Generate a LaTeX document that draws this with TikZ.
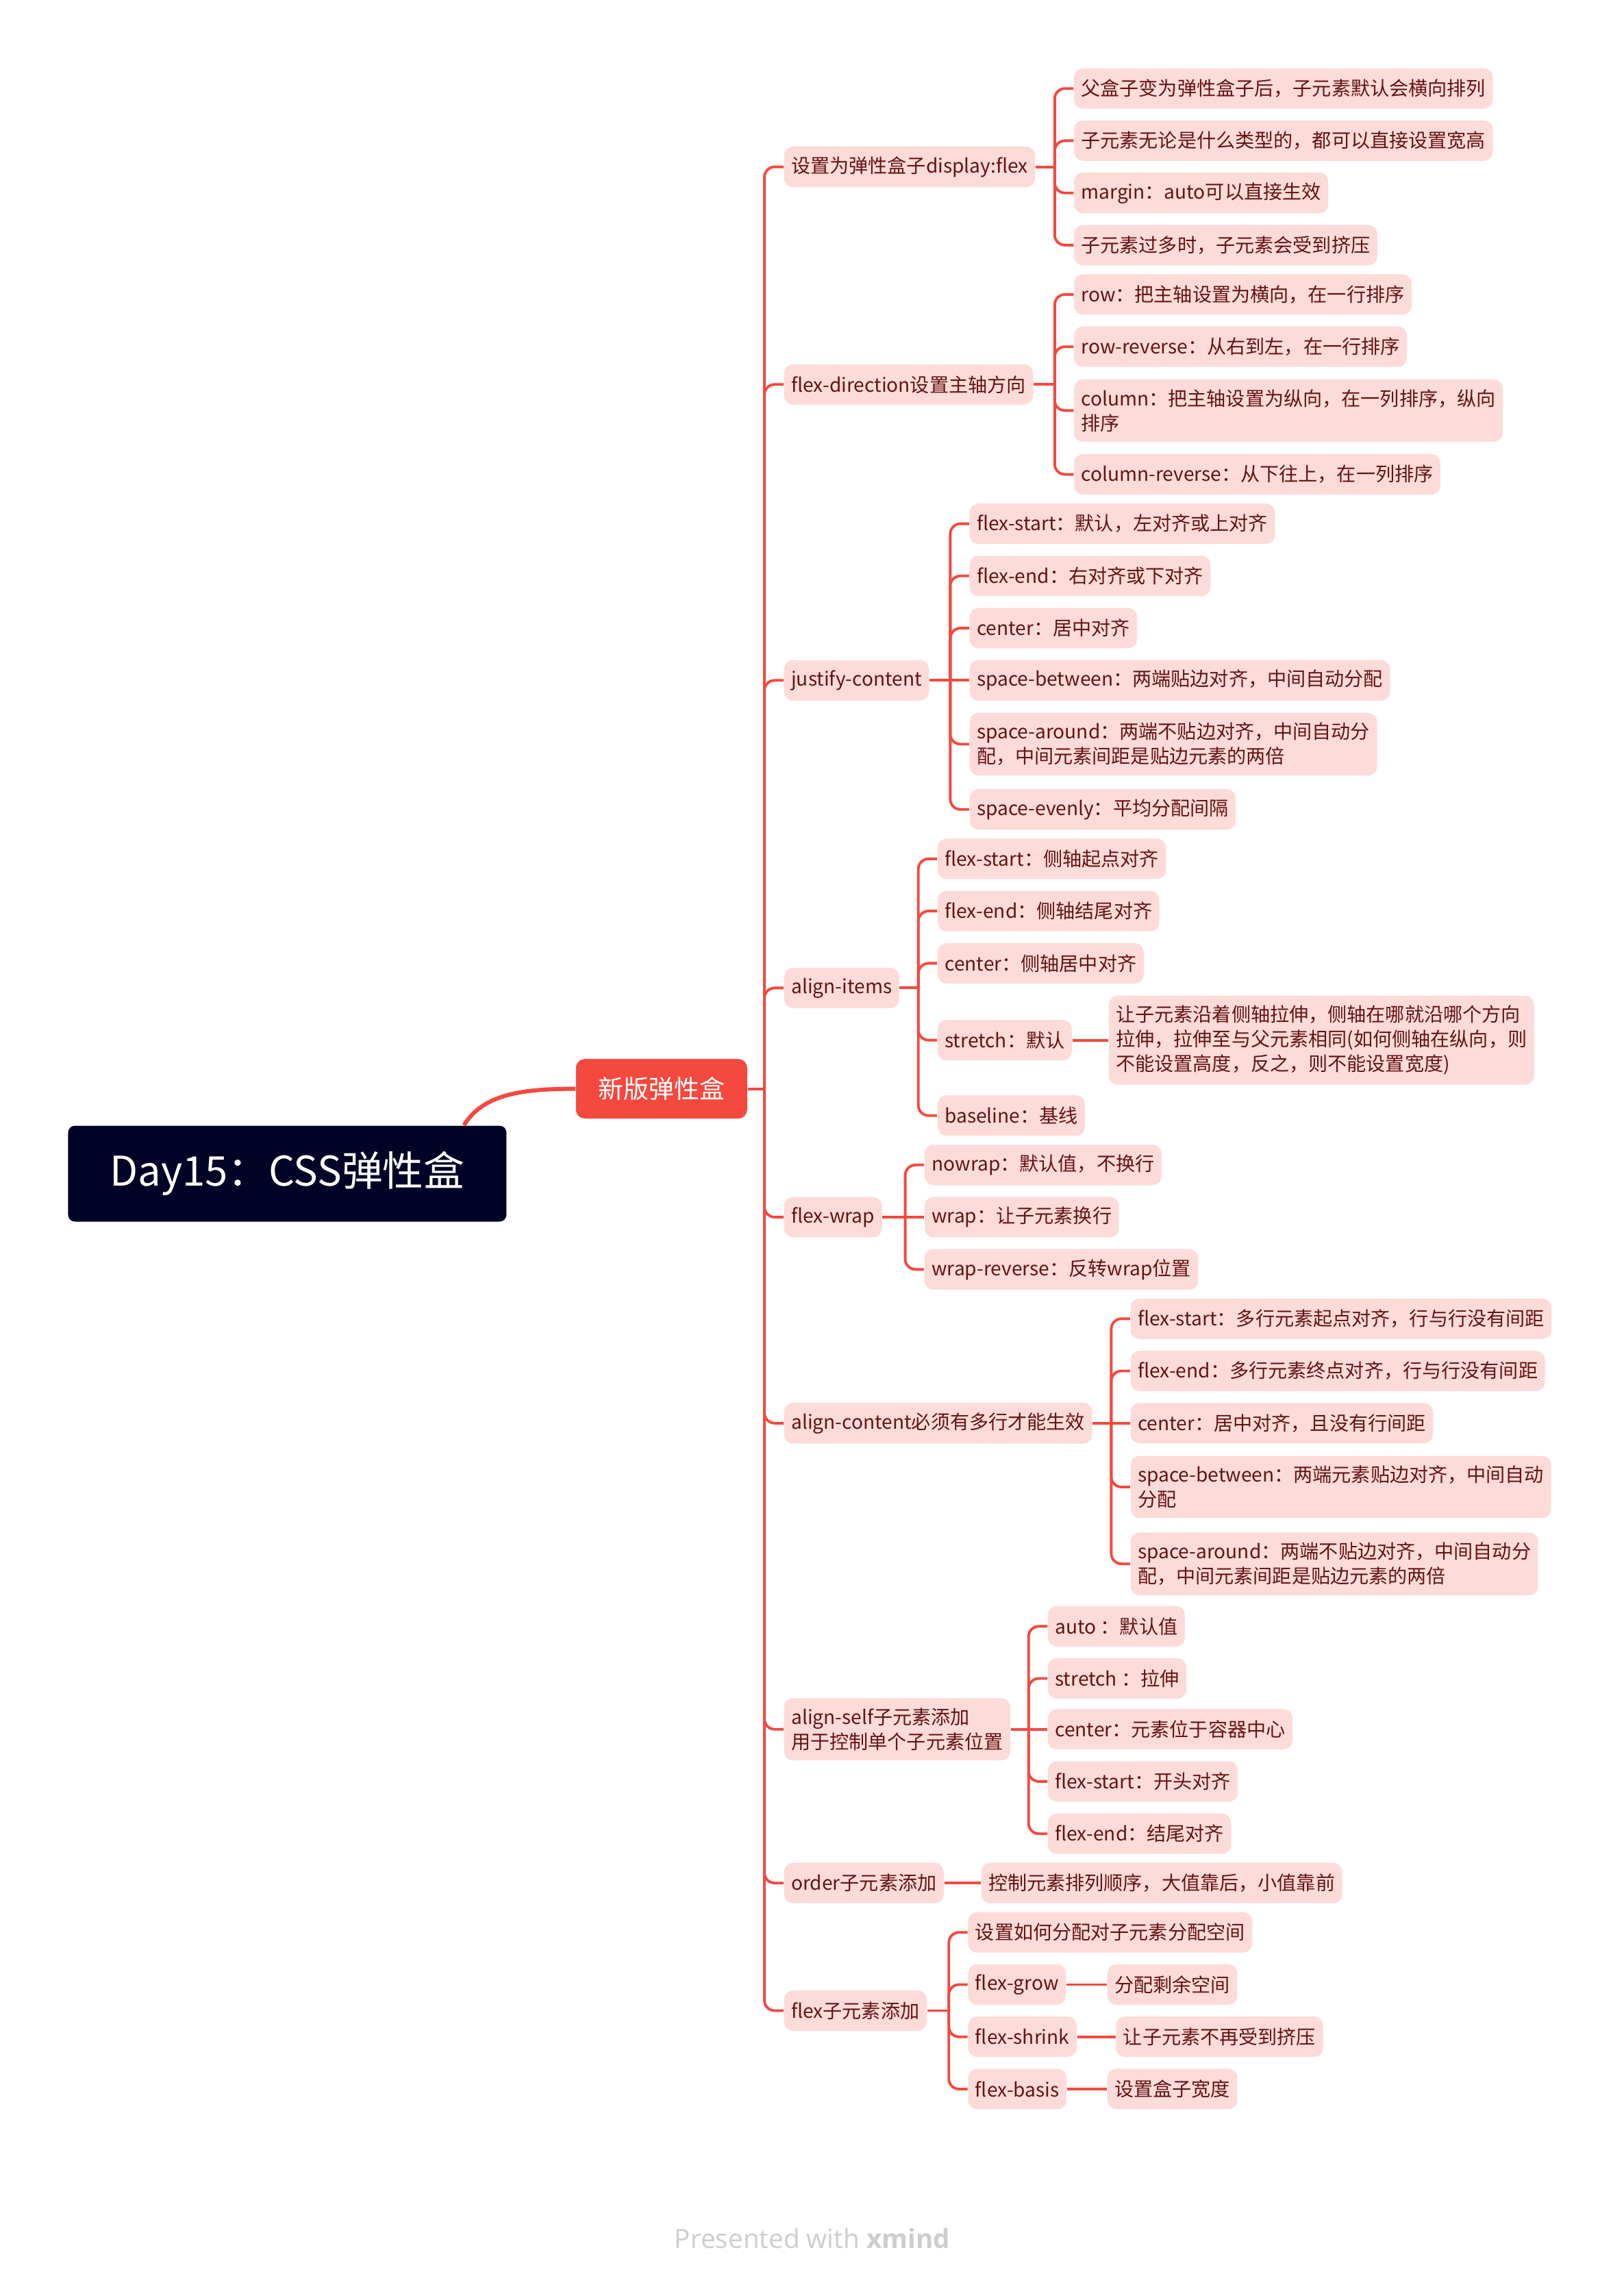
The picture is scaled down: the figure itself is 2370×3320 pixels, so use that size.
\documentclass[tikz,border=0pt]{standalone}
\usepackage{fontspec}
\setmainfont{Noto Sans CJK SC}
\newfontfamily\footfont{Open Sans}
\definecolor{xred}{RGB}{245,72,62}
\definecolor{xpink}{RGB}{253,219,217}
\definecolor{xtext}{RGB}{98,20,18}
\definecolor{xnavy}{RGB}{0,2,38}
\definecolor{xgray}{RGB}{205,205,205}
\tikzset{
  leafbox/.style={anchor=west, fill=xpink, text=xtext, rounded corners=1.3mm,
    inner xsep=1.05mm, inner ysep=1.45mm, minimum height=5.9mm, align=left,
    font=\fontsize{8pt}{10.2pt}\selectfont},
  rootbox/.style={fill=xnavy, text=white, rounded corners=1mm,
    minimum width=64mm, minimum height=14mm, font=\fontsize{17pt}{20pt}\selectfont},
  topicbox/.style={fill=xred, text=white, rounded corners=1.3mm,
    minimum width=25mm, minimum height=8.7mm, font=\fontsize{10.5pt}{12pt}\selectfont},
  branch/.style={draw=xred, line width=1.1pt, rounded corners=1.5mm},
  trunk/.style={draw=xred, line width=1.7pt},
}
\begin{document}
\begin{tikzpicture}[x=0.1mm, y=-0.1mm]
    \useasboundingbox (0,0) rectangle (2370,3320);

    % 中心主题
    \node[rootbox] (day) at (419.4,1713.5) {Day15：CSS弹性盒};
    \node[topicbox] (xinban) at (965.8,1589.6) {新版弹性盒};
    \draw[trunk] ([xshift=25.8mm]day.north) .. controls (705,1598) and (760,1589.6) .. (xinban.west);
    \draw[branch] (xinban.east) -- (1116,1589.6);

    % 一级分支
    \node[leafbox] (p1) at (1144,243.6) {设置为弹性盒子display:flex};
    \node[leafbox] (p2) at (1144,561.3) {flex-direction设置主轴方向};
    \node[leafbox] (p3) at (1144,993.3) {justify-content};
    \node[leafbox] (p4) at (1144,1442.4) {align-items};
    \node[leafbox] (p5) at (1144,1777) {flex-wrap};
    \node[leafbox] (p6) at (1144,2077.8) {align-content必须有多行才能生效};
    \node[leafbox] (p7) at (1144,2524.7) {align-self子元素添加\\用于控制单个子元素位置};
    \node[leafbox] (p8) at (1144,2749.2) {order子元素添加};
    \node[leafbox] (p9) at (1144,2935.5) {flex子元素添加};
    \draw[branch] (1116,1589.6) |- (p1.west);
    \draw[branch] (1116,1589.6) |- (p2.west);
    \draw[branch] (1116,1589.6) |- (p3.west);
    \draw[branch] (1116,1589.6) |- (p4.west);
    \draw[branch] (1116,1589.6) |- (p5.west);
    \draw[branch] (1116,1589.6) |- (p6.west);
    \draw[branch] (1116,1589.6) |- (p7.west);
    \draw[branch] (1116,1589.6) |- (p8.west);
    \draw[branch] (1116,1589.6) |- (p9.west);

    % display:flex
    \node[leafbox] (p1a) at (1567.3,129.2) {父盒子变为弹性盒子后，子元素默认会横向排列};
    \node[leafbox] (p1b) at (1567.3,205.4) {子元素无论是什么类型的，都可以直接设置宽高};
    \node[leafbox] (p1c) at (1567.3,281.7) {margin：auto可以直接生效};
    \node[leafbox] (p1d) at (1567.3,357.9) {子元素过多时，子元素会受到挤压};
    \draw[branch] (p1.east) -- (1539.8,243.6);
    \draw[branch] (1539.8,243.6) |- (p1a.west);
    \draw[branch] (1539.8,243.6) |- (p1b.west);
    \draw[branch] (1539.8,243.6) |- (p1c.west);
    \draw[branch] (1539.8,243.6) |- (p1d.west);

    % flex-direction
    \node[leafbox] (p2a) at (1567.3,430) {row：把主轴设置为横向，在一行排序};
    \node[leafbox] (p2b) at (1567.3,506.2) {row-reverse：从右到左，在一行排序};
    \node[leafbox] (p2c) at (1567.3,599.4) {column：把主轴设置为纵向，在一列排序，纵向\\排序};
    \node[leafbox] (p2d) at (1567.3,692.6) {column-reverse：从下往上，在一列排序};
    \draw[branch] (p2.east) -- (1539.8,561.3);
    \draw[branch] (1539.8,561.3) |- (p2a.west);
    \draw[branch] (1539.8,561.3) |- (p2b.west);
    \draw[branch] (1539.8,561.3) |- (p2c.west);
    \draw[branch] (1539.8,561.3) |- (p2d.west);

    % justify-content
    \node[leafbox] (p3a) at (1414.8,764.6) {flex-start：默认，左对齐或上对齐};
    \node[leafbox] (p3b) at (1414.8,840.8) {flex-end：右对齐或下对齐};
    \node[leafbox] (p3c) at (1414.8,917.1) {center：居中对齐};
    \node[leafbox] (p3d) at (1414.8,993.3) {space-between：两端贴边对齐，中间自动分配};
    \node[leafbox] (p3e) at (1414.8,1086.5) {space-around：两端不贴边对齐，中间自动分\\配，中间元素间距是贴边元素的两倍};
    \node[leafbox] (p3f) at (1414.8,1181.8) {space-evenly：平均分配间隔};
    \draw[branch] (p3.east) -- (1387.3,993.3);
    \draw[branch] (1387.3,993.3) |- (p3a.west);
    \draw[branch] (1387.3,993.3) |- (p3b.west);
    \draw[branch] (1387.3,993.3) |- (p3c.west);
    \draw[branch] (1387.3,993.3) -- (p3d.west);
    \draw[branch] (1387.3,993.3) |- (p3e.west);
    \draw[branch] (1387.3,993.3) |- (p3f.west);

    % align-items
    \node[leafbox] (p4a) at (1368.2,1253.9) {flex-start：侧轴起点对齐};
    \node[leafbox] (p4b) at (1368.2,1330.1) {flex-end：侧轴结尾对齐};
    \node[leafbox] (p4c) at (1368.2,1406.4) {center：侧轴居中对齐};
    \node[leafbox] (p4d) at (1368.2,1518.6) {stretch：默认};
    \node[leafbox] (p4e) at (1368.2,1628.7) {baseline：基线};
    \node[leafbox] (p4x) at (1618.1,1518.6) {让子元素沿着侧轴拉伸，侧轴在哪就沿哪个方向\\拉伸，拉伸至与父元素相同(如何侧轴在纵向，则\\不能设置高度，反之，则不能设置宽度)};
    \draw[branch] (p4.east) -- (1340.7,1442.4);
    \draw[branch] (1340.7,1442.4) |- (p4a.west);
    \draw[branch] (1340.7,1442.4) |- (p4b.west);
    \draw[branch] (1340.7,1442.4) |- (p4c.west);
    \draw[branch] (1340.7,1442.4) |- (p4d.west);
    \draw[branch] (1340.7,1442.4) |- (p4e.west);
    \draw[branch] (p4d.east) -- (p4x.west);

    % flex-wrap
    \node[leafbox] (p5a) at (1349.2,1700.8) {nowrap：默认值，不换行};
    \node[leafbox] (p5b) at (1349.2,1777) {wrap：让子元素换行};
    \node[leafbox] (p5c) at (1349.2,1853.3) {wrap-reverse：反转wrap位置};
    \draw[branch] (p5.east) -- (1321.6,1777);
    \draw[branch] (1321.6,1777) |- (p5a.west);
    \draw[branch] (1321.6,1777) -- (p5b.west);
    \draw[branch] (1321.6,1777) |- (p5c.west);

    % align-content
    \node[leafbox] (p6a) at (1649.9,1925.3) {flex-start：多行元素起点对齐，行与行没有间距};
    \node[leafbox] (p6b) at (1649.9,2001.5) {flex-end：多行元素终点对齐，行与行没有间距};
    \node[leafbox] (p6c) at (1649.9,2077.8) {center：居中对齐，且没有行间距};
    \node[leafbox] (p6d) at (1649.9,2171) {space-between：两端元素贴边对齐，中间自动\\分配};
    \node[leafbox] (p6e) at (1649.9,2283.2) {space-around：两端不贴边对齐，中间自动分\\配，中间元素间距是贴边元素的两倍};
    \draw[branch] (p6.east) -- (1622.4,2077.8);
    \draw[branch] (1622.4,2077.8) |- (p6a.west);
    \draw[branch] (1622.4,2077.8) |- (p6b.west);
    \draw[branch] (1622.4,2077.8) -- (p6c.west);
    \draw[branch] (1622.4,2077.8) |- (p6d.west);
    \draw[branch] (1622.4,2077.8) |- (p6e.west);

    % align-self
    \node[leafbox] (p7a) at (1529.2,2374.3) {auto ：默认值};
    \node[leafbox] (p7b) at (1529.2,2450.5) {stretch ：拉伸};
    \node[leafbox] (p7c) at (1529.2,2524.7) {center：元素位于容器中心};
    \node[leafbox] (p7d) at (1529.2,2600.9) {flex-start：开头对齐};
    \node[leafbox] (p7e) at (1529.2,2677.2) {flex-end：结尾对齐};
    \draw[branch] (p7.east) -- (1501.7,2524.7);
    \draw[branch] (1501.7,2524.7) |- (p7a.west);
    \draw[branch] (1501.7,2524.7) |- (p7b.west);
    \draw[branch] (1501.7,2524.7) -- (p7c.west);
    \draw[branch] (1501.7,2524.7) |- (p7d.west);
    \draw[branch] (1501.7,2524.7) |- (p7e.west);

    % order
    \node[leafbox] (p8a) at (1431.8,2749.2) {控制元素排列顺序，大值靠后，小值靠前};
    \draw[branch] (p8.east) -- (p8a.west);

    % flex
    \node[leafbox] (p9a) at (1412.7,2821.2) {设置如何分配对子元素分配空间};
    \node[leafbox] (p9b) at (1412.7,2897.4) {flex-grow};
    \node[leafbox] (p9c) at (1412.7,2973.7) {flex-shrink};
    \node[leafbox] (p9d) at (1412.7,3049.9) {flex-basis};
    \node[leafbox] (p9bx) at (1616,2897.4) {分配剩余空间};
    \node[leafbox] (p9cx) at (1628.7,2973.7) {让子元素不再受到挤压};
    \node[leafbox] (p9dx) at (1616,3049.9) {设置盒子宽度};
    \draw[branch] (p9.east) -- (1385.2,2935.5);
    \draw[branch] (1385.2,2935.5) |- (p9a.west);
    \draw[branch] (1385.2,2935.5) |- (p9b.west);
    \draw[branch] (1385.2,2935.5) |- (p9c.west);
    \draw[branch] (1385.2,2935.5) |- (p9d.west);
    \draw[branch] (p9b.east) -- (p9bx.west);
    \draw[branch] (p9c.east) -- (p9cx.west);
    \draw[branch] (p9d.east) -- (p9dx.west);

    % 页脚
    \node[text=xgray, font=\footfont\fontsize{11pt}{13pt}\selectfont] (foot) at (1186,3268) {Presented with \textbf{xmind}};
\end{tikzpicture}
\end{document}
